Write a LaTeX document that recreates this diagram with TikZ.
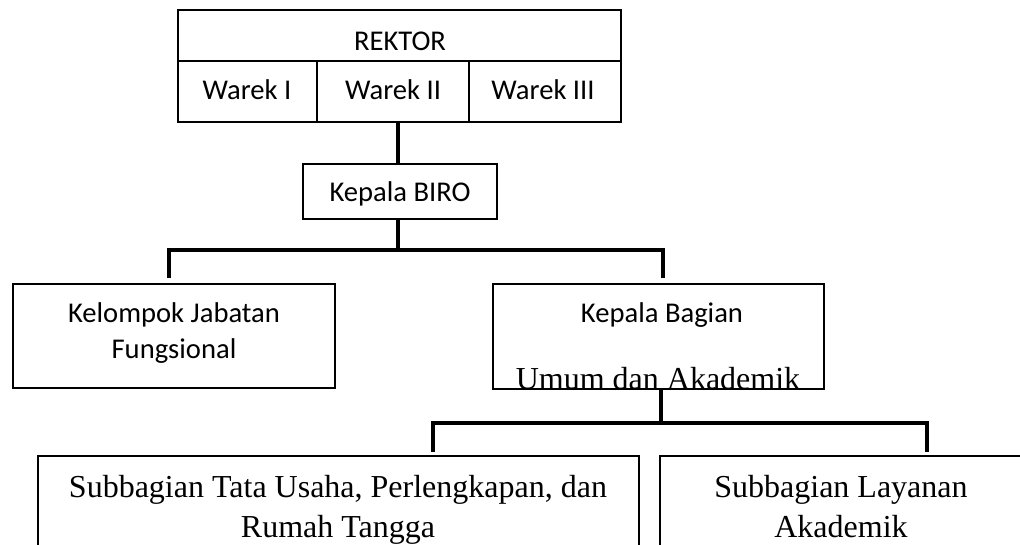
\documentclass[tikz,border=0pt]{standalone}
\usepackage{fontspec}
\setmainfont{Liberation Serif}
\newfontfamily\carl{Carlito}
\begin{document}
\begin{tikzpicture}[x=1pt,y=-1pt,
  box/.style={draw,line width=1.3pt,rectangle,inner sep=0pt},
  conn/.style={line width=3.3pt},
  sanslbl/.style={inner sep=0pt,anchor=base,font=\carl\fontsize{28.6}{34}\selectfont},
  seriflbl/.style={inner sep=0pt,anchor=base,font=\fontsize{32}{38}\selectfont}]
\useasboundingbox (0,0) rectangle (1020,545);
\clip (0,0) rectangle (1020,545);

% leadership block
\node[box,minimum width=443pt,minimum height=51pt] (rektor) at (399.5,35.5) {};
\node[box,minimum width=139pt,minimum height=61pt] (warek1) at (247.5,91.5) {};
\node[box,minimum width=152pt,minimum height=61pt] (warek2) at (393,91.5) {};
\node[box,minimum width=152pt,minimum height=61pt] (warek3) at (545,91.5) {};
\node[sanslbl] (trektor) at (400,51) {REKTOR};
\node[sanslbl] (tw1) at (247,100) {Warek I};
\node[sanslbl] (tw2) at (393,100) {Warek II};
\node[sanslbl] (tw3) at (543,100) {Warek III};

% bureau head
\node[box,minimum width=194pt,minimum height=55pt] (kabiro) at (400,191.5) {};
\node[sanslbl] (tkabiro) at (400,202) {Kepala BIRO};

% second level
\node[box,minimum width=322pt,minimum height=104pt] (kelompok) at (174,336) {};
\node[sanslbl] (tkel1) at (174,323) {Kelompok Jabatan};
\node[sanslbl] (tkel2) at (174,358) {Fungsional};

\node[box,minimum width=331pt,minimum height=105pt] (kabag) at (658.5,336.5) {};
\node[sanslbl] (tkabag) at (662,323) {Kepala Bagian};
\begin{scope}
  \clip (kabag.north west) rectangle (kabag.south east);
  \node[seriflbl] (tumum) at (658,389) {Umum dan Akademik};
\end{scope}

% third level
\node[box,minimum width=601pt,minimum height=160pt] (subtu) at (338.5,536) {};
\node[seriflbl] (ttu1) at (338,497) {Subbagian Tata Usaha, Perlengkapan, dan};
\node[seriflbl] (ttu2) at (338,537) {Rumah Tangga};

\node[box,minimum width=370pt,minimum height=160pt] (subly) at (845,536) {};
\node[seriflbl] (tly1) at (841,497) {Subbagian Layanan};
\node[seriflbl] (tly2) at (841,537) {Akademik};

% connectors
\coordinate (bar1) at (398,250);
\coordinate (bar2) at (661,423);
\coordinate (kelTop) at (169,278);
\coordinate (kabagTop) at (663,278);
\coordinate (tuTop) at (433,452);
\coordinate (lyTop) at (927,452);

\draw[conn] ([xshift=-2pt]kabiro.north) -- ([xshift=-2pt]kabiro.north |- warek2.south);
\draw[conn] ([xshift=-2pt]kabiro.south) -- (bar1);
\draw[conn] (kelTop) |- (bar1) -| (kabagTop);
\draw[conn] (kabag.south -| bar2) -- (bar2);
\draw[conn] (tuTop) |- (bar2) -| (lyTop);
\end{tikzpicture}
\end{document}
